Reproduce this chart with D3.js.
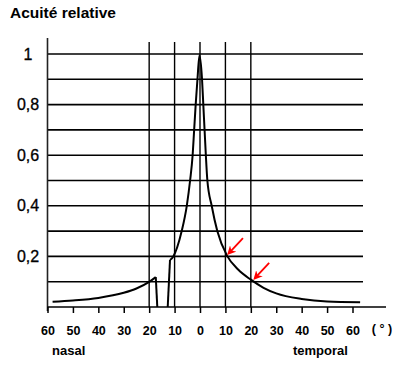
<!DOCTYPE html>
<html>
<head>
<meta charset="utf-8">
<script src="https://cdn.jsdelivr.net/npm/d3@7"></script>
<style>
  body { margin: 0; background: #fff; }
  text { font-family: "Liberation Sans", Arial, sans-serif; font-weight: bold; fill: #000; }
</style>
</head>
<body>
<svg id="chart" width="400" height="370"></svg>
<script>
// data
var yTicks = [0.2, 0.4, 0.6, 0.8, 1];
var yTickLabels = ["0,2", "0,4", "0,6", "0,8", "1"];
var gridValues = [0.1, 0.2, 0.3, 0.4, 0.5, 0.6, 0.7, 0.8, 0.9, 1];
var vLines = [-20, -10, 0, 10, 20];
var xTicks = [-60, -50, -40, -30, -20, -10, 0, 10, 20, 30, 40, 50, 60];
var xTickLabels = ["60", "50", "40", "30", "20", "10", "0", "10", "20", "30", "40", "50", "60"];

// nasal periphery up to blind spot
var nasalOuter = [[-58, 0.021], [-50, 0.026], [-40, 0.036], [-30, 0.056], [-25, 0.073],
                  [-20, 0.099], [-17.4, 0.118]];
var blindLeft = [[-17.4, 0.118], [-16.8, 0]];
var blindRight = [[-12.7, 0], [-11.8, 0.186]];
var central = [[-11.8, 0.186], [-10.5, 0.20], [-9, 0.235], [-7.2, 0.30], [-5.2, 0.40],
               [-3.9, 0.50], [-2.9, 0.60], [-2.3, 0.70], [-1.7, 0.80], [-1.0, 0.90],
               [-0.2, 0.995], [0.8, 0.90], [1.3, 0.80], [1.8, 0.70], [2.3, 0.60],
               [2.9, 0.50], [4.6, 0.40], [6.8, 0.30], [10.8, 0.20], [15, 0.148],
               [20, 0.108], [25, 0.076], [30, 0.054], [40, 0.032], [50, 0.022], [63, 0.019]];
var arrows = [[11.4, 0.213], [21.7, 0.115]];

var svg = d3.select("#chart");
var x = d3.scaleLinear().domain([-60, 60]).range([47.5, 352.5]);
var y = d3.scaleLinear().domain([0, 1]).range([307, 54]);

// title
svg.append("text").attr("x", 10).attr("y", 18).style("font-size", "15.5px").text("Acuité relative");

// horizontal grid
svg.append("g").selectAll("line").data(gridValues).enter().append("line")
    .attr("x1", x(-60)).attr("x2", 363)
    .attr("y1", function (d) { return y(d); }).attr("y2", function (d) { return y(d); })
    .attr("stroke", "#000").attr("stroke-width", 1.6);

// vertical lines
svg.append("g").selectAll("line").data(vLines).enter().append("line")
    .attr("x1", function (d) { return x(d); }).attr("x2", function (d) { return x(d); })
    .attr("y1", 42).attr("y2", y(0))
    .attr("stroke", "#000").attr("stroke-width", 1.4);

// left axis
svg.append("line").attr("x1", x(-60)).attr("x2", x(-60)).attr("y1", 38).attr("y2", 311)
    .attr("stroke", "#222").attr("stroke-width", 1.6);

// bottom axis
var xAxis = d3.axisBottom(x).tickValues(xTicks).tickSize(6)
    .tickFormat(function (d, i) { return xTickLabels[i]; });
var gx = svg.append("g").attr("transform", "translate(0," + y(0) + ")").call(xAxis);
gx.select(".domain").remove();
gx.selectAll(".tick line").attr("stroke", "#000").attr("stroke-width", 1.5);
gx.selectAll(".tick text").attr("y", 19).style("font-size", "12.5px")
    .style("font-family", "'Liberation Sans', Arial, sans-serif").style("font-weight", "bold");
svg.append("line").attr("x1", x(-60)).attr("x2", 386).attr("y1", y(0)).attr("y2", y(0))
    .attr("stroke", "#000").attr("stroke-width", 1.6);

// y tick labels
svg.append("g").selectAll("text").data(yTicks).enter().append("text")
    .attr("x", 28).attr("y", function (d) { return y(d) + 5.5; })
    .attr("text-anchor", "middle").style("font-size", "16px").style("font-weight", "normal")
    .style("stroke", "#000").style("stroke-width", 0.3)
    .text(function (d, i) { return yTickLabels[i]; });

svg.append("text").attr("x", 382).attr("y", 333).attr("text-anchor", "middle")
    .style("font-size", "12.5px").attr("xml:space", "preserve").text("( ° )");
svg.append("text").attr("x", 52).attr("y", 355).style("font-size", "13px").text("nasal");
svg.append("text").attr("x", 293).attr("y", 355).style("font-size", "13px").text("temporal");

// curve
var line = d3.line().x(function (d) { return x(d[0]); }).y(function (d) { return y(d[1]); });
var smooth = d3.line().x(function (d) { return x(d[0]); }).y(function (d) { return y(d[1]); })
    .curve(d3.curveMonotoneX);
[nasalOuter, central].forEach(function (s) {
    svg.append("path").attr("d", smooth(s)).attr("fill", "none")
        .attr("stroke", "#000").attr("stroke-width", 2);
});
[blindLeft, blindRight].forEach(function (s) {
    svg.append("path").attr("d", line(s)).attr("fill", "none")
        .attr("stroke", "#000").attr("stroke-width", 2);
});

// red arrows
svg.append("defs").append("marker").attr("id", "ah")
    .attr("viewBox", "0 0 10 10").attr("refX", 7).attr("refY", 5)
    .attr("markerWidth", 5).attr("markerHeight", 5).attr("orient", "auto")
    .append("path").attr("d", "M0,0L10,5L0,10L3,5z").attr("fill", "#f00");
svg.append("g").selectAll("line").data(arrows).enter().append("line")
    .attr("x1", function (d) { return x(d[0]) + 14; })
    .attr("y1", function (d) { return y(d[1]) - 15; })
    .attr("x2", function (d) { return x(d[0]); })
    .attr("y2", function (d) { return y(d[1]); })
    .attr("stroke", "#f00").attr("stroke-width", 1.8).attr("marker-end", "url(#ah)");
</script>
</body>
</html>
